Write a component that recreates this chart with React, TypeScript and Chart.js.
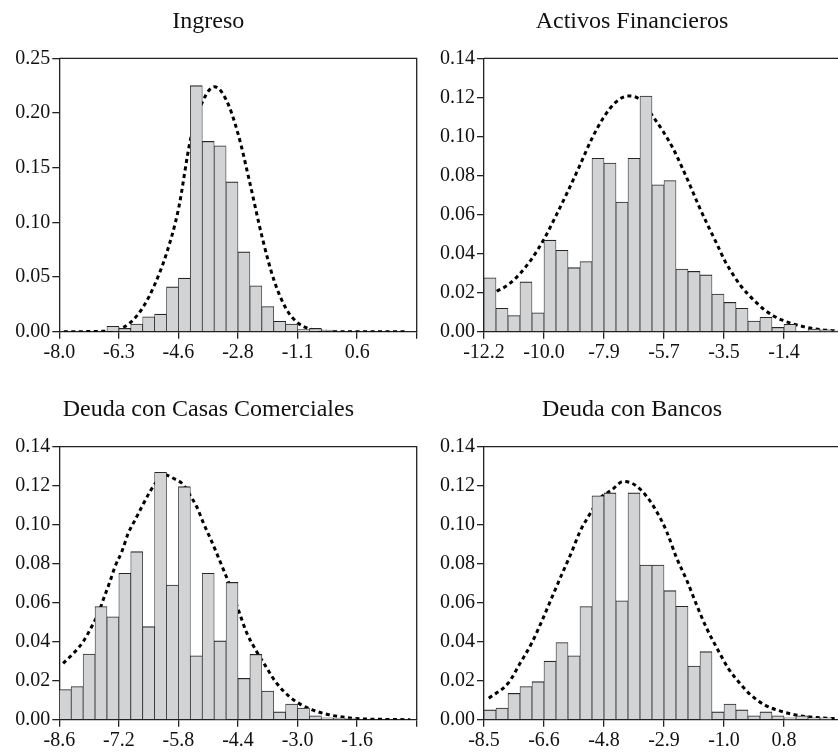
import React, { useEffect, useRef } from 'react';
import { Chart, registerables } from 'chart.js';

Chart.register(...registerables);

const FONT = "'Liberation Serif', 'Times New Roman', Times, serif";
const AXIS = '#222222';
const BAR_FILL = '#d2d3d5';
const BAR_EDGE = '#262626';

// ---------- Ingreso ----------
const ingresoTitle = 'Ingreso';
const ingresoBinStart = -8.0;
const ingresoBinWidth = 0.344;
const ingresoHeights = [0, 0, 0, 0, 0.005, 0.003, 0.007, 0.0137, 0.016, 0.041, 0.049, 0.225, 0.174, 0.17, 0.137, 0.073, 0.042, 0.023, 0.0095, 0.007, 0.002, 0.003, 0.0015, 0, 0, 0, 0, 0, 0, 0];
const ingresoCurveX = [-7.87, -6.78, -6.3, -5.96, -5.59, -5.26, -4.9, -4.56, -4.21, -3.87, -3.52, -3.18, -2.83, -2.49, -2.14, -1.8, -1.45, -1.11, -0.76, -0.42, -0.08, 2.03];
const ingresoCurveY = [0, 0.0003, 0.002, 0.008, 0.022, 0.042, 0.072, 0.112, 0.176, 0.21, 0.224, 0.212, 0.18, 0.135, 0.086, 0.047, 0.021, 0.008, 0.0025, 0.0007, 0, 0];
const ingresoXTicks = [-8.0, -6.28, -4.56, -2.84, -1.12, 0.6, 2.32];
const ingresoXLabels = ['-8.0', '-6.3', '-4.6', '-2.8', '-1.1', '0.6', ''];
const ingresoYTicks = [0, 0.05, 0.1, 0.15, 0.2, 0.25];
const ingresoYLabels = ['0.00', '0.05', '0.10', '0.15', '0.20', '0.25'];

// ---------- Activos Financieros ----------
const activosTitle = 'Activos Financieros';
const activosBinStart = -12.2;
const activosBinWidth = 0.434;
const activosHeights = [0.0276, 0.012, 0.0083, 0.0255, 0.0097, 0.0469, 0.0417, 0.0328, 0.0359, 0.0888, 0.0864, 0.0664, 0.0888, 0.1207, 0.0752, 0.0774, 0.0321, 0.0309, 0.0291, 0.0193, 0.015, 0.012, 0.0055, 0.0074, 0.0022, 0.0038, 0, 0.0014, 0.0009, 0.0005];
const activosCurveX = [-11.74, -11.33, -10.9, -10.46, -10.03, -9.6, -9.15, -8.73, -8.29, -7.86, -7.43, -6.99, -6.57, -6.08, -5.72, -5.35, -5.05, -4.75, -4.45, -4.09, -3.78, -3.48, -3.18, -2.94, -2.64, -2.34, -2.04, -1.74, -1.43, -1.07, -0.65, -0.29, 0.07, 0.56];
const activosCurveY = [0.0207, 0.024, 0.0297, 0.0376, 0.0474, 0.0593, 0.0724, 0.0853, 0.0991, 0.11, 0.1176, 0.1207, 0.119, 0.11, 0.1025, 0.0935, 0.0845, 0.075, 0.065, 0.054, 0.045, 0.036, 0.029, 0.024, 0.019, 0.0148, 0.011, 0.0082, 0.006, 0.0042, 0.0026, 0.0016, 0.0009, 0.0004];
const activosXTicks = [-12.2, -10.03, -7.86, -5.69, -3.52, -1.35, 0.82];
const activosXLabels = ['-12.2', '-10.0', '-7.9', '-5.7', '-3.5', '-1.4', ''];
const activosYTicks = [0, 0.02, 0.04, 0.06, 0.08, 0.1, 0.12, 0.14];
const activosYLabels = ['0.00', '0.02', '0.04', '0.06', '0.08', '0.10', '0.12', '0.14'];

// ---------- Deuda con Casas Comerciales ----------
const casasTitle = 'Deuda con Casas Comerciales';
const casasBinStart = -8.6;
const casasBinWidth = 0.28;
const casasHeights = [0.0155, 0.017, 0.0337, 0.058, 0.0528, 0.0751, 0.0862, 0.0477, 0.1269, 0.0691, 0.1195, 0.0328, 0.0751, 0.0404, 0.0704, 0.0212, 0.0335, 0.0147, 0.004, 0.008, 0.006, 0.002, 0.001, 0.0008, 0.0005, 0, 0, 0, 0, 0];
const casasCurveX = [-8.51, -8.27, -8.04, -7.84, -7.68, -7.57, -7.41, -7.29, -7.13, -6.98, -6.82, -6.66, -6.47, -6.31, -6.11, -5.92, -5.68, -5.53, -5.37, -5.21, -5.05, -4.9, -4.74, -4.58, -4.39, -4.19, -3.96, -3.72, -3.52, -3.2, -2.94, -2.65, -2.35, -2.0, -1.53, -1.05, -0.35];
const casasCurveY = [0.0289, 0.034, 0.04, 0.0477, 0.0546, 0.0614, 0.0708, 0.0785, 0.0862, 0.0956, 0.1024, 0.1092, 0.1169, 0.1221, 0.1255, 0.1238, 0.1204, 0.1152, 0.1092, 0.1007, 0.093, 0.0853, 0.0768, 0.0682, 0.0563, 0.0443, 0.0349, 0.0264, 0.0195, 0.012, 0.008, 0.005, 0.003, 0.0015, 0.0005, 0.0002, 0];
const casasXTicks = [-8.6, -7.2, -5.8, -4.4, -3.0, -1.6, -0.2];
const casasXLabels = ['-8.6', '-7.2', '-5.8', '-4.4', '-3.0', '-1.6', ''];
const casasYTicks = [0, 0.02, 0.04, 0.06, 0.08, 0.1, 0.12, 0.14];
const casasYLabels = ['0.00', '0.02', '0.04', '0.06', '0.08', '0.10', '0.12', '0.14'];

// ---------- Deuda con Bancos ----------
const bancosTitle = 'Deuda con Bancos';
const bancosBinStart = -8.5;
const bancosBinWidth = 0.373;
const bancosHeights = [0.005, 0.006, 0.0135, 0.017, 0.0195, 0.03, 0.0396, 0.0328, 0.058, 0.1148, 0.1163, 0.061, 0.1163, 0.0793, 0.0793, 0.0662, 0.0582, 0.0275, 0.0349, 0.004, 0.008, 0.005, 0.002, 0.004, 0.002, 0.001, 0.002, 0.001, 0.001, 0];
const bancosCurveX = [-8.35, -7.75, -7.38, -7.02, -6.71, -6.4, -6.09, -5.77, -5.52, -5.26, -4.89, -4.53, -4.17, -3.81, -3.44, -3.13, -2.82, -2.51, -2.2, -1.89, -1.58, -1.22, -0.91, -0.54, -0.23, 0.23, 0.7, 1.32, 1.94, 2.57];
const bancosCurveY = [0.011, 0.0187, 0.0289, 0.0392, 0.0503, 0.0623, 0.0742, 0.0862, 0.0964, 0.1041, 0.1135, 0.1178, 0.1222, 0.1204, 0.1144, 0.1067, 0.0964, 0.0828, 0.0716, 0.0588, 0.0469, 0.0355, 0.0264, 0.0185, 0.013, 0.0075, 0.0045, 0.002, 0.001, 0.0004];
const bancosXTicks = [-8.5, -6.635, -4.77, -2.905, -1.04, 0.825, 2.69];
const bancosXLabels = ['-8.5', '-6.6', '-4.8', '-2.9', '-1.0', '0.8', ''];
const bancosYTicks = [0, 0.02, 0.04, 0.06, 0.08, 0.1, 0.12, 0.14];
const bancosYLabels = ['0.00', '0.02', '0.04', '0.06', '0.08', '0.10', '0.12', '0.14'];

const framePlugin = {
  id: 'frame',
  afterDatasetsDraw(chart: any) {
    const { ctx, chartArea: a } = chart;
    ctx.save();
    ctx.strokeStyle = AXIS;
    ctx.lineWidth = 1.3;
    ctx.beginPath();
    ctx.moveTo(a.left, a.top);
    ctx.lineTo(a.right, a.top);
    ctx.lineTo(a.right, a.bottom);
    ctx.stroke();
    ctx.restore();
  },
};

type PanelProps = {
  title: string;
  binStart: number;
  binWidth: number;
  heights: number[];
  curveX: number[];
  curveY: number[];
  xTicks: number[];
  xLabels: string[];
  yTicks: number[];
  yLabels: string[];
  left: number;
  top: number;
  width: number;
  height: number;
  yAxisWidth: number;
  padRight: number;
  titlePadTop: number;
  titlePadBottom: number;
  xAxisHeight: number;
};

function Panel(p: PanelProps) {
  const ref = useRef<HTMLCanvasElement | null>(null);
  useEffect(() => {
    if (!ref.current) return;
    const barData = p.heights.map((h, i) => ({ x: p.binStart + p.binWidth * (i + 0.5), y: h }));
    const lineData = p.curveX.map((x, i) => ({ x, y: p.curveY[i] }));
    const chart = new Chart(ref.current, {
      type: 'bar',
      data: {
        datasets: [
          {
            type: 'bar',
            data: barData as any,
            backgroundColor: BAR_FILL,
            borderColor: BAR_EDGE,
            borderWidth: { top: 1.1, left: 0.75, right: 0.75, bottom: 0 } as any,
            borderSkipped: false,
            barPercentage: 1,
            categoryPercentage: 1,
            order: 1,
          } as any,
          {
            type: 'line',
            data: lineData as any,
            borderColor: '#000000',
            borderWidth: 3,
            borderDash: [4, 3.5],
            borderCapStyle: 'butt',
            pointRadius: 0,
            fill: false,
            cubicInterpolationMode: 'monotone',
            order: 2,
          } as any,
        ],
      },
      options: {
        animation: false,
        responsive: false,
        devicePixelRatio: 1,
        layout: { padding: { left: 0, right: p.padRight, top: 0, bottom: 0 } },
        plugins: {
          legend: { display: false },
          tooltip: { enabled: false },
          title: {
            display: true,
            text: p.title,
            color: '#111111',
            font: { family: FONT, size: 24, weight: 'normal', lineHeight: 1.2 },
            padding: { top: p.titlePadTop, bottom: p.titlePadBottom },
          },
        },
        scales: {
          x: {
            type: 'linear',
            min: p.xTicks[0],
            max: p.xTicks[p.xTicks.length - 1],
            offset: false,
            grid: { display: true, offset: false, drawOnChartArea: false, drawTicks: true, tickLength: 7, color: AXIS, lineWidth: 1.3 },
            border: { display: true, color: AXIS, width: 1.3 },
            ticks: {
              autoSkip: false,
              maxRotation: 0,
              padding: 2,
              color: '#111111',
              font: { family: FONT, size: 20 },
              callback: (_v: any, i: number) => p.xLabels[i],
            },
            afterBuildTicks: (scale: any) => {
              scale.ticks = p.xTicks.map((v) => ({ value: v }));
            },
            afterFit: (scale: any) => {
              scale.height = p.xAxisHeight;
            },
          } as any,
          y: {
            type: 'linear',
            min: p.yTicks[0],
            max: p.yTicks[p.yTicks.length - 1],
            grid: { display: true, drawOnChartArea: false, drawTicks: true, tickLength: 7, color: AXIS, lineWidth: 1.3 },
            border: { display: true, color: AXIS, width: 1.3 },
            ticks: {
              padding: 2,
              color: '#111111',
              font: { family: FONT, size: 20 },
              callback: (_v: any, i: number) => p.yLabels[i],
            },
            afterBuildTicks: (scale: any) => {
              scale.ticks = p.yTicks.map((v) => ({ value: v }));
            },
            afterFit: (scale: any) => {
              scale.width = p.yAxisWidth;
            },
          } as any,
        },
      },
      plugins: [framePlugin],
    });
    return () => chart.destroy();
  }, []);
  return (
    <canvas
      ref={ref}
      width={p.width}
      height={p.height}
      style={{ position: 'absolute', left: p.left, top: p.top, width: p.width, height: p.height }}
    />
  );
}

export default function App() {
  const topRow = { top: 0, height: 375, titlePadTop: 7, titlePadBottom: 22.5, xAxisHeight: 43.3 };
  const botRow = { top: 375, height: 379, titlePadTop: 20.6, titlePadBottom: 22.3, xAxisHeight: 34.3 };
  const leftCol = { left: 0, width: 420, yAxisWidth: 59.3, padRight: 3.3 };
  const rightCol = { left: 420, width: 430, yAxisWidth: 64, padRight: 6 };
  return (
    <div style={{ position: 'fixed', left: 0, top: 0, width: 838, height: 754, overflow: 'hidden', background: '#ffffff' }}>
      <Panel
        title={ingresoTitle}
        binStart={ingresoBinStart}
        binWidth={ingresoBinWidth}
        heights={ingresoHeights}
        curveX={ingresoCurveX}
        curveY={ingresoCurveY}
        xTicks={ingresoXTicks}
        xLabels={ingresoXLabels}
        yTicks={ingresoYTicks}
        yLabels={ingresoYLabels}
        {...topRow}
        {...leftCol}
      />
      <Panel
        title={activosTitle}
        binStart={activosBinStart}
        binWidth={activosBinWidth}
        heights={activosHeights}
        curveX={activosCurveX}
        curveY={activosCurveY}
        xTicks={activosXTicks}
        xLabels={activosXLabels}
        yTicks={activosYTicks}
        yLabels={activosYLabels}
        {...topRow}
        {...rightCol}
      />
      <Panel
        title={casasTitle}
        binStart={casasBinStart}
        binWidth={casasBinWidth}
        heights={casasHeights}
        curveX={casasCurveX}
        curveY={casasCurveY}
        xTicks={casasXTicks}
        xLabels={casasXLabels}
        yTicks={casasYTicks}
        yLabels={casasYLabels}
        {...botRow}
        {...leftCol}
      />
      <Panel
        title={bancosTitle}
        binStart={bancosBinStart}
        binWidth={bancosBinWidth}
        heights={bancosHeights}
        curveX={bancosCurveX}
        curveY={bancosCurveY}
        xTicks={bancosXTicks}
        xLabels={bancosXLabels}
        yTicks={bancosYTicks}
        yLabels={bancosYLabels}
        {...botRow}
        {...rightCol}
      />
    </div>
  );
}
